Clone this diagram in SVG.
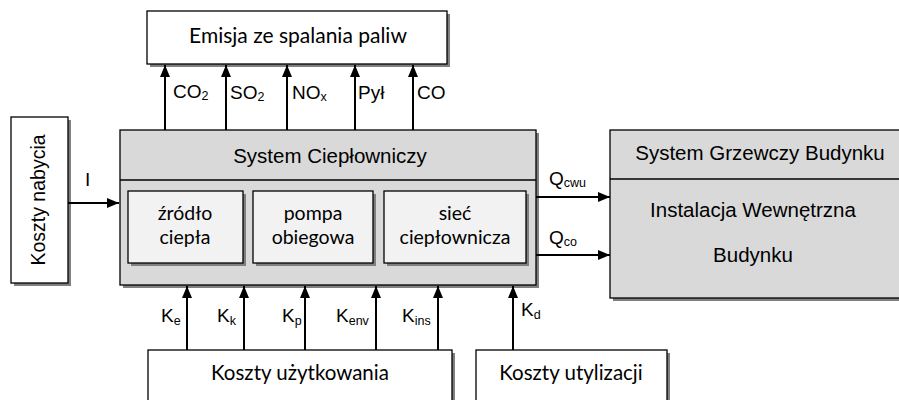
<svg xmlns="http://www.w3.org/2000/svg" width="899" height="400" viewBox="0 0 899 400">
<defs>
<marker id="ah" viewBox="0 0 12 10" refX="12" refY="5" markerWidth="12" markerHeight="10" markerUnits="userSpaceOnUse" orient="auto"><path d="M0,0 L12,5 L0,10 z" fill="#000"/></marker>
<style>
.box{stroke:#000;stroke-width:1.3}
.sh{fill:#808080}
.w{fill:#fff}
.g{fill:#d9d9d9}
.l{fill:#f2f2f2}
.a{font-family:"Liberation Sans",Arial,sans-serif;font-size:20.5px;fill:#000}
.c{font-family:Lato,"Open Sans",sans-serif;font-size:20.5px;fill:#000}
.ci{font-family:Lato,"Open Sans",sans-serif;font-size:19.5px;fill:#000}
.lbl{font-family:"Liberation Sans",Arial,sans-serif;font-size:19px;fill:#000}
.sub{font-size:12.5px}
.con{stroke:#000;stroke-width:2;fill:none;marker-end:url(#ah)}
</style>
</defs>
<g id="emisja">
<rect class="sh" x="150" y="14" width="300" height="53"/>
<rect class="box w" x="147" y="11" width="300" height="53"/>
<text class="c" x="298" y="43" text-anchor="middle" style="font-size:21px">Emisja ze spalania paliw</text>
</g>
<g id="nabycia">
<rect class="sh" x="14" y="120" width="57" height="166"/>
<rect class="box w" x="11" y="117" width="57" height="166"/>
<text class="a" transform="translate(45,200) rotate(-90)" text-anchor="middle" style="font-size:19.5px">Koszty nabycia</text>
</g>
<g id="system">
<rect class="sh" x="123" y="133" width="416" height="155"/>
<rect class="box g" x="120" y="130" width="416" height="155"/>
<line class="box" x1="120" y1="180" x2="536" y2="180"/>
<text class="a" x="330" y="163" text-anchor="middle">System Ciepłowniczy</text>
</g>
<g id="zrodlo">
<rect class="sh" x="131" y="194" width="115" height="72"/>
<rect class="box l" x="128" y="191" width="115" height="72"/>
<text class="ci" x="185" y="220" text-anchor="middle">źródło</text>
<text class="ci" x="185" y="244" text-anchor="middle">ciepła</text>
</g>
<g id="pompa">
<rect class="sh" x="256" y="194" width="120" height="72"/>
<rect class="box l" x="253" y="191" width="120" height="72"/>
<text class="ci" x="313" y="220" text-anchor="middle">pompa</text>
<text class="ci" x="313" y="244" text-anchor="middle">obiegowa</text>
</g>
<g id="siec">
<rect class="sh" x="387" y="194" width="142" height="72"/>
<rect class="box l" x="384" y="191" width="142" height="72"/>
<text class="ci" x="455" y="220" text-anchor="middle">sieć</text>
<text class="ci" x="455" y="244" text-anchor="middle">ciepłownicza</text>
</g>
<g id="grzewczy">
<rect class="sh" x="613" y="133" width="290" height="168"/>
<rect class="box g" x="610" y="130" width="295" height="168"/>
<line class="box" x1="610" y1="179" x2="899" y2="179"/>
<text class="a" x="760" y="160" text-anchor="middle">System Grzewczy Budynku</text>
<text class="a" x="753" y="217" text-anchor="middle">Instalacja Wewnętrzna</text>
<text class="a" x="753" y="262" text-anchor="middle">Budynku</text>
</g>
<g id="uzytkowania">
<rect class="sh" x="151" y="353" width="304" height="60"/>
<rect class="box w" x="148" y="350" width="304" height="60"/>
<text class="c" x="300" y="380" text-anchor="middle">Koszty użytkowania</text>
</g>
<g id="utylizacji">
<rect class="sh" x="479" y="353" width="191" height="60"/>
<rect class="box w" x="476" y="350" width="191" height="60"/>
<text class="c" x="571" y="380" text-anchor="middle">Koszty utylizacji</text>
</g>
<g id="connectors">
<line class="con" x1="165" y1="130" x2="165" y2="65"/>
<line class="con" x1="226" y1="130" x2="226" y2="65"/>
<line class="con" x1="287" y1="130" x2="287" y2="65"/>
<line class="con" x1="355" y1="130" x2="355" y2="65"/>
<line class="con" x1="413" y1="130" x2="413" y2="65"/>
<line class="con" x1="68" y1="203" x2="119" y2="203"/>
<line class="con" x1="536" y1="197" x2="610" y2="197"/>
<line class="con" x1="536" y1="255" x2="610" y2="255"/>
<line class="con" x1="187" y1="350" x2="187" y2="286"/>
<line class="con" x1="244" y1="350" x2="244" y2="286"/>
<line class="con" x1="305" y1="350" x2="305" y2="286"/>
<line class="con" x1="376" y1="350" x2="376" y2="286"/>
<line class="con" x1="438" y1="350" x2="438" y2="286"/>
<line class="con" x1="513" y1="350" x2="513" y2="286"/>
</g>
<g id="labels">
<text class="lbl" x="173" y="98">CO<tspan class="sub" dy="2">2</tspan></text>
<text class="lbl" x="230" y="99">SO<tspan class="sub" dy="2">2</tspan></text>
<text class="lbl" x="292" y="99">NO<tspan class="sub" dy="2">x</tspan></text>
<text class="lbl" x="358" y="99">Pył</text>
<text class="lbl" x="417" y="99">CO</text>
<text class="lbl" x="85" y="186">I</text>
<text class="lbl" x="549" y="185">Q<tspan class="sub" dy="1.5">cwu</tspan></text>
<text class="lbl" x="549" y="244">Q<tspan class="sub" dy="1.5">co</tspan></text>
<text class="lbl" x="161" y="322">K<tspan class="sub" dy="3">e</tspan></text>
<text class="lbl" x="217" y="322">K<tspan class="sub" dy="3">k</tspan></text>
<text class="lbl" x="282" y="322">K<tspan class="sub" dy="3">p</tspan></text>
<text class="lbl" x="336" y="322">K<tspan class="sub" dy="3">env</tspan></text>
<text class="lbl" x="402" y="322">K<tspan class="sub" dy="3">ins</tspan></text>
<text class="lbl" x="521" y="316">K<tspan class="sub" dy="3">d</tspan></text>
</g>
</svg>
